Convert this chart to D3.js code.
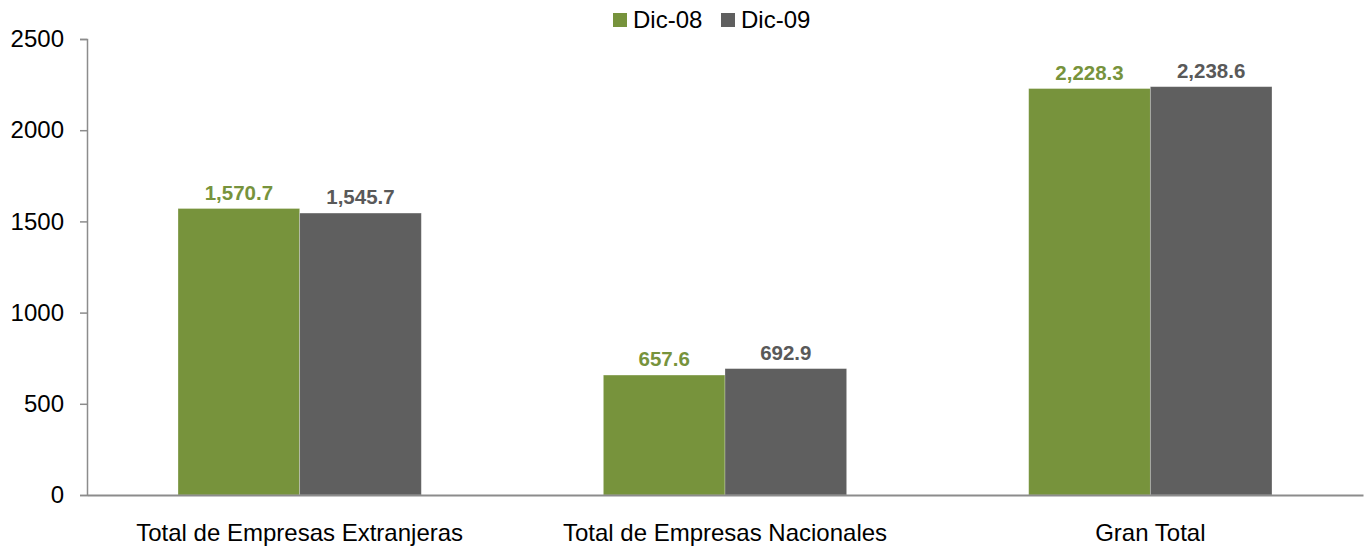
<!DOCTYPE html>
<html>
<head>
<meta charset="utf-8">
<script src="https://cdn.jsdelivr.net/npm/d3@7/dist/d3.min.js"></script>
<style>
  html, body { margin: 0; padding: 0; background: #ffffff; }
  svg { display: block; font-family: "Liberation Sans", Arial, sans-serif; }
</style>
</head>
<body>
<svg id="chart" width="1367" height="549"></svg>
<script>
const categories = ["Total de Empresas Extranjeras", "Total de Empresas Nacionales", "Gran Total"];
const seriesNames = ["Dic-08", "Dic-09"];
const dic08 = [1570.7, 657.6, 2228.3];
const dic09 = [1545.7, 692.9, 2238.6];
const yTicks = [0, 500, 1000, 1500, 2000, 2500];
const colors = ["#77933C", "#5F5F5F"];
const labelColors = ["#77933C", "#595959"];

(function () {
const series = [dic08, dic09];
const svg = d3.select("#chart");

const mLeft = 87, mRight = 1363, mTop = 39, mBottom = 495;

const x0 = d3.scaleBand().domain(categories).range([mLeft, mRight])
  .paddingInner(0.428).paddingOuter(0.214);
const x1 = d3.scaleBand().domain(seriesNames).range([0, x0.bandwidth()]).padding(0);
const y = d3.scaleLinear().domain([0, 2500]).range([mBottom, mTop]);

const fmt = d3.format(",.1f");

const groups = svg.append("g").selectAll("g").data(categories).join("g")
  .attr("transform", d => `translate(${x0(d)},0)`);

groups.each(function (cat, ci) {
  const g = d3.select(this);
  seriesNames.forEach((s, si) => {
    const v = series[si][ci];
    g.append("rect")
      .attr("x", x1(s))
      .attr("y", y(v))
      .attr("width", x1.bandwidth())
      .attr("height", y(0) - y(v))
      .attr("fill", colors[si])
      .attr("stroke", "#ffffff")
      .attr("stroke-opacity", 0.35)
      .attr("stroke-width", 0.75);
    g.append("text")
      .attr("x", x1(s) + x1.bandwidth() / 2)
      .attr("y", y(v) - 9)
      .attr("text-anchor", "middle")
      .attr("font-size", 20.5)
      .attr("font-weight", "bold")
      .attr("fill", labelColors[si])
      .text(fmt(v));
  });
});

const yAxis = d3.axisLeft(y).tickValues(yTicks).tickSize(7).tickPadding(16).tickFormat(d3.format("d"));
const gy = svg.append("g").attr("transform", `translate(${mLeft},0)`).call(yAxis);
gy.select(".domain").attr("stroke", "#8c8c8c").attr("stroke-width", 1.5);
gy.selectAll(".tick line").attr("stroke", "#8c8c8c").attr("stroke-width", 1.5);
gy.selectAll(".tick text").attr("font-size", 24).attr("fill", "#000000")
  .attr("font-family", "'Liberation Sans', Arial, sans-serif");

const xAxis = d3.axisBottom(x0).tickSize(0).tickPadding(29);
const gx = svg.append("g").attr("transform", `translate(0,${mBottom})`).call(xAxis);
gx.select(".domain").attr("stroke", "#8c8c8c").attr("stroke-width", 2);
gx.selectAll(".tick text").attr("font-size", 24).attr("fill", "#000000")
  .attr("font-family", "'Liberation Sans', Arial, sans-serif");

const legend = svg.append("g");
const legendX = [613, 721];
seriesNames.forEach((s, i) => {
  legend.append("rect")
    .attr("x", legendX[i]).attr("y", 13)
    .attr("width", 14).attr("height", 14)
    .attr("fill", colors[i]);
  legend.append("text")
    .attr("x", legendX[i] + 20).attr("y", 28)
    .attr("font-size", 24).attr("fill", "#000000")
    .text(s);
});
})();
</script>
</body>
</html>
